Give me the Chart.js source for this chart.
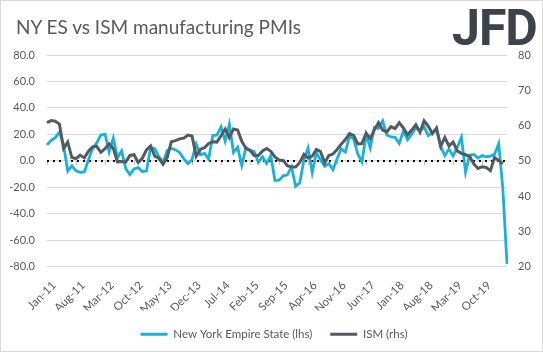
<!DOCTYPE html>
<html><head><meta charset="utf-8">
<script src="https://cdn.jsdelivr.net/npm/chart.js@4"></script>
<style>
html,body{margin:0;padding:0;background:#fff;}
#wrap{position:relative;width:543px;height:352px;overflow:hidden;}
#c{position:absolute;left:0;top:0;}
#frame{position:absolute;left:0;top:0;width:541px;height:350px;border:1px solid #d9d9d9;pointer-events:none;}
#title{position:absolute;left:16px;top:15px;font-family:Lato,sans-serif;font-size:19px;line-height:24px;color:#595959;white-space:nowrap;}
#logo{position:absolute;left:452px;top:3px;font-family:Roboto,'DejaVu Sans',sans-serif;font-weight:bold;font-size:50px;line-height:50px;color:#3d434a;letter-spacing:-1px;}
</style></head>
<body>
<div id="wrap">
<canvas id="c" width="543" height="352"></canvas>
<div id="title">NY ES vs ISM manufacturing PMIs</div>
<div id="logo">JFD</div>
<div id="frame"></div>
</div>
<script>
const categories = [
'Jan-11','Feb-11','Mar-11','Apr-11','May-11','Jun-11','Jul-11','Aug-11','Sep-11','Oct-11','Nov-11','Dec-11',
'Jan-12','Feb-12','Mar-12','Apr-12','May-12','Jun-12','Jul-12','Aug-12','Sep-12','Oct-12','Nov-12','Dec-12',
'Jan-13','Feb-13','Mar-13','Apr-13','May-13','Jun-13','Jul-13','Aug-13','Sep-13','Oct-13','Nov-13','Dec-13',
'Jan-14','Feb-14','Mar-14','Apr-14','May-14','Jun-14','Jul-14','Aug-14','Sep-14','Oct-14','Nov-14','Dec-14',
'Jan-15','Feb-15','Mar-15','Apr-15','May-15','Jun-15','Jul-15','Aug-15','Sep-15','Oct-15','Nov-15','Dec-15',
'Jan-16','Feb-16','Mar-16','Apr-16','May-16','Jun-16','Jul-16','Aug-16','Sep-16','Oct-16','Nov-16','Dec-16',
'Jan-17','Feb-17','Mar-17','Apr-17','May-17','Jun-17','Jul-17','Aug-17','Sep-17','Oct-17','Nov-17','Dec-17',
'Jan-18','Feb-18','Mar-18','Apr-18','May-18','Jun-18','Jul-18','Aug-18','Sep-18','Oct-18','Nov-18','Dec-18',
'Jan-19','Feb-19','Mar-19','Apr-19','May-19','Jun-19','Jul-19','Aug-19','Sep-19','Oct-19','Nov-19','Dec-19',
'Jan-20','Feb-20','Mar-20','Apr-20'];

const nyEmpireState = [
11.9,15.4,17.5,21.7,11.9,-7.8,-3.8,-7.7,-8.8,-8.5,0.6,9.5,
13.5,19.5,20.2,6.6,17.1,2.3,7.4,-5.9,-10.4,-6.2,-5.2,-8.1,
-7.8,10.0,9.2,3.1,-1.4,7.8,9.5,8.2,6.3,1.5,-2.2,1.0,
12.5,4.5,5.6,1.3,19.0,19.3,25.6,14.7,27.5,6.2,10.2,-3.6,
9.9,7.8,6.9,-1.2,3.1,-2.0,3.9,-14.9,-14.7,-11.4,-10.7,-4.6,
-19.4,-16.6,0.6,9.6,-9.0,6.0,0.6,-4.2,-2.0,-6.8,1.5,9.0,
6.5,18.7,16.4,5.2,-1.0,19.8,9.8,25.2,24.4,30.2,19.4,18.0,
17.7,13.1,22.5,15.8,20.1,25.0,22.6,25.6,19.0,21.1,23.3,10.9,
3.9,8.8,3.7,10.1,17.8,-8.6,4.3,4.8,2.0,4.0,2.9,3.5,
4.8,12.9,-21.5,-78.2];

const ismPmi = [
60.8,61.4,61.2,60.4,53.5,55.3,50.9,50.6,51.6,50.8,52.7,53.9,
54.1,52.4,53.4,54.8,53.5,49.7,49.8,49.6,51.5,51.7,49.5,50.7,
53.1,54.2,51.3,50.7,49.0,50.9,55.4,55.7,56.2,56.4,57.3,57.0,
51.3,53.2,53.7,54.9,55.4,55.3,57.1,59.0,56.6,59.0,58.7,55.5,
53.5,52.9,51.5,51.5,52.8,53.5,52.7,51.1,50.2,50.1,48.6,48.2,
48.2,49.5,51.8,50.8,51.3,53.2,52.6,49.4,51.5,51.9,53.2,54.7,
56.0,57.7,57.2,54.8,54.9,57.8,56.3,58.8,60.8,58.7,58.2,59.7,
59.1,60.8,59.3,57.3,58.7,60.2,58.1,61.3,59.8,57.7,59.3,54.1,
56.6,54.2,55.3,52.8,52.1,51.7,51.2,49.1,47.8,48.3,48.1,47.2,
50.9,50.1,49.1];

const shownLabels = ['Jan-11','Aug-11','Mar-12','Oct-12','May-13','Dec-13','Jul-14','Feb-15','Sep-15','Apr-16','Nov-16','Jun-17','Jan-18','Aug-18','Mar-19','Oct-19'];

const FONT = 'Lato';
const TXT = '#595959';

const zeroLine = {
  id: 'zeroLine',
  beforeDatasetsDraw(chart) {
    const {ctx, chartArea, scales} = chart;
    const y = Math.round(scales.y.getPixelForValue(0));
    ctx.save();
    ctx.strokeStyle = '#bfbfbf';
    ctx.lineWidth = 1;
    categories.forEach((c, i) => {
      if (shownLabels.includes(c)) {
        const x = Math.round(scales.x.getPixelForValue(i)) + 0.5;
        ctx.beginPath(); ctx.moveTo(x, y); ctx.lineTo(x, y + 4); ctx.stroke();
      }
    });
    ctx.strokeStyle = '#000';
    ctx.lineWidth = 2;
    ctx.setLineDash([2, 4]);
    ctx.beginPath(); ctx.moveTo(chartArea.left, y); ctx.lineTo(chartArea.right, y); ctx.stroke();
    ctx.restore();
  }
};

new Chart(document.getElementById('c'), {
  type: 'line',
  data: {
    labels: categories,
    datasets: [
      {label: 'New York Empire State (lhs)', data: nyEmpireState, yAxisID: 'y', borderColor: '#19b1d9', backgroundColor: '#19b1d9', borderWidth: 2.8, pointRadius: 0, tension: 0, order: 1},
      {label: 'ISM (rhs)', data: ismPmi, yAxisID: 'y1', borderColor: '#535a62', backgroundColor: '#535a62', borderWidth: 3, pointRadius: 0, tension: 0, order: 0}
    ]
  },
  plugins: [zeroLine],
  options: {
    responsive: false,
    animation: false,
    devicePixelRatio: 1,
    layout: {padding: {left: 0, right: -5, top: 55, bottom: 2}},
    plugins: {
      title: {display: false},
      legend: {position: 'bottom', labels: {usePointStyle: true, pointStyle: 'line', pointStyleWidth: 27,
        color: TXT, font: {family: FONT, size: 11.5}, padding: 18, boxHeight: 12,
        sort: (a, b) => a.datasetIndex - b.datasetIndex}},
      tooltip: {enabled: false}
    },
    scales: {
      x: {
        grid: {display: false, drawTicks: false}, border: {display: false},
        ticks: {autoSkip: false, maxRotation: 45, minRotation: 45, color: TXT, font: {family: FONT, size: 11.5},
          padding: 12, labelOffset: 7,
          callback(v, i) { const l = categories[i]; return shownLabels.includes(l) ? l : ''; }},
        afterFit(s) { s.height = 44; }
      },
      y: {
        position: 'left', min: -80, max: 80,
        ticks: {stepSize: 20, padding: 12, color: TXT, font: {family: FONT, size: 11}, callback: v => Number(v).toFixed(1)},
        grid: {color: '#d9d9d9', drawTicks: false}, border: {display: false},
        afterFit(s) { s.width = 47; }
      },
      y1: {
        position: 'right', min: 20, max: 80,
        ticks: {stepSize: 10, padding: 11, color: TXT, font: {family: FONT, size: 11}},
        grid: {display: false, drawTicks: false}, border: {display: false},
        afterFit(s) { s.width = 41; }
      }
    }
  }
});
</script>
</body></html>
